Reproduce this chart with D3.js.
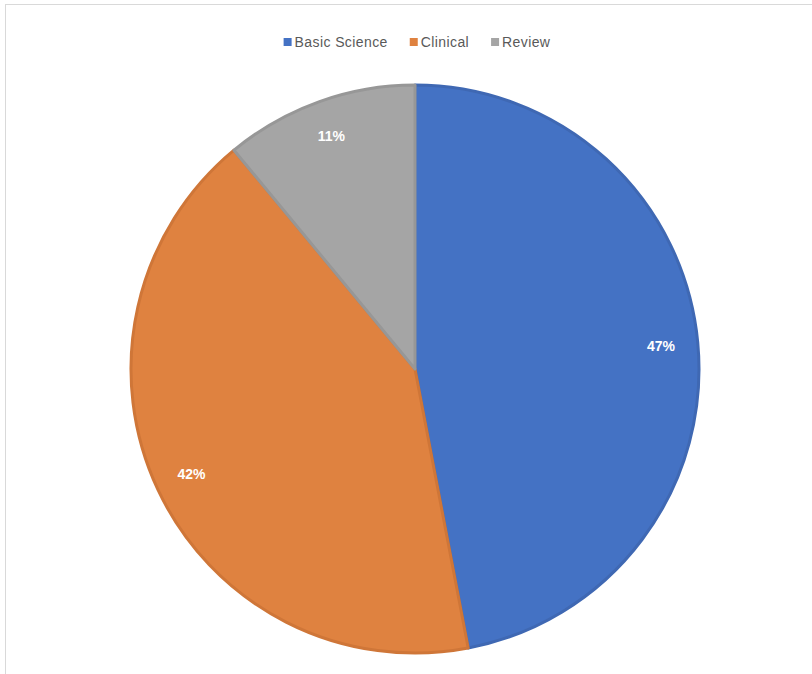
<!DOCTYPE html>
<html>
<head>
<meta charset="utf-8">
<script src="https://cdn.jsdelivr.net/npm/d3@7"></script>
<style>
  body { margin: 0; background: #fff; }
  svg { display: block; }
</style>
</head>
<body>
<svg></svg>
<script>
// Data
const categories = ['Basic Science', 'Clinical', 'Review'];
const shares = [47, 42, 11];
const colors = ['#4472c4', '#df8240', '#a5a5a5'];
const edgeColors = ['#3f68b3', '#cf7638', '#979797'];

const width = 812, height = 674;
const svg = d3.select('svg').attr('width', width).attr('height', height);

// chart frame (runs off the right and bottom of the picture)
svg.append('rect')
    .attr('x', 5.5).attr('y', 4.5)
    .attr('width', 840).attr('height', 700)
    .attr('fill', 'none')
    .attr('stroke', '#d9d9d9');

const cx = 415, cy = 369, radius = 284;

const pie = d3.pie().sort(null).value(d => d.value);
const arcs = pie(categories.map((c, i) => ({ name: c, value: shares[i], i })));

const arc = d3.arc().innerRadius(0).outerRadius(radius);
const labelArc = d3.arc().innerRadius(radius * 0.87).outerRadius(radius * 0.87);

const g = svg.append('g').attr('transform', `translate(${cx},${cy})`);

g.selectAll('path.slice')
    .data(arcs)
    .enter()
    .append('path')
    .attr('class', 'slice')
    .attr('d', arc)
    .attr('fill', d => colors[d.data.i])
    .attr('stroke', d => edgeColors[d.data.i])
    .attr('stroke-width', 3)
    .attr('stroke-linejoin', 'round');

g.selectAll('text.pct')
    .data(arcs)
    .enter()
    .append('text')
    .attr('class', 'pct')
    .attr('transform', d => `translate(${labelArc.centroid(d)})`)
    .attr('text-anchor', 'middle')
    .attr('dy', '0.35em')
    .attr('fill', '#fff')
    .style('font-family', '"Liberation Sans", Arial, sans-serif')
    .style('font-size', '14px')
    .style('font-weight', 'bold')
    .text(d => d.data.value + '%');

// Legend, centered above the pie
const legend = svg.append('g');
const item = legend.selectAll('g')
    .data(categories)
    .enter()
    .append('g');

item.append('rect')
    .attr('width', 8).attr('height', 8)
    .attr('y', -9)
    .attr('fill', (d, i) => colors[i]);

item.append('text')
    .attr('x', 11)
    .attr('fill', '#595959')
    .style('font-family', '"Liberation Sans", Arial, sans-serif')
    .style('font-size', '14px')
    .style('letter-spacing', '0.4px')
    .text(d => d);

const gap = 22;
let xPos = 0;
item.each(function() {
    d3.select(this).attr('transform', `translate(${xPos},0)`);
    xPos += 11 + this.querySelector('text').getComputedTextLength() + gap;
});
const legendWidth = xPos - gap;
legend.attr('transform', `translate(${417 - legendWidth / 2},47)`);
</script>
</body>
</html>
